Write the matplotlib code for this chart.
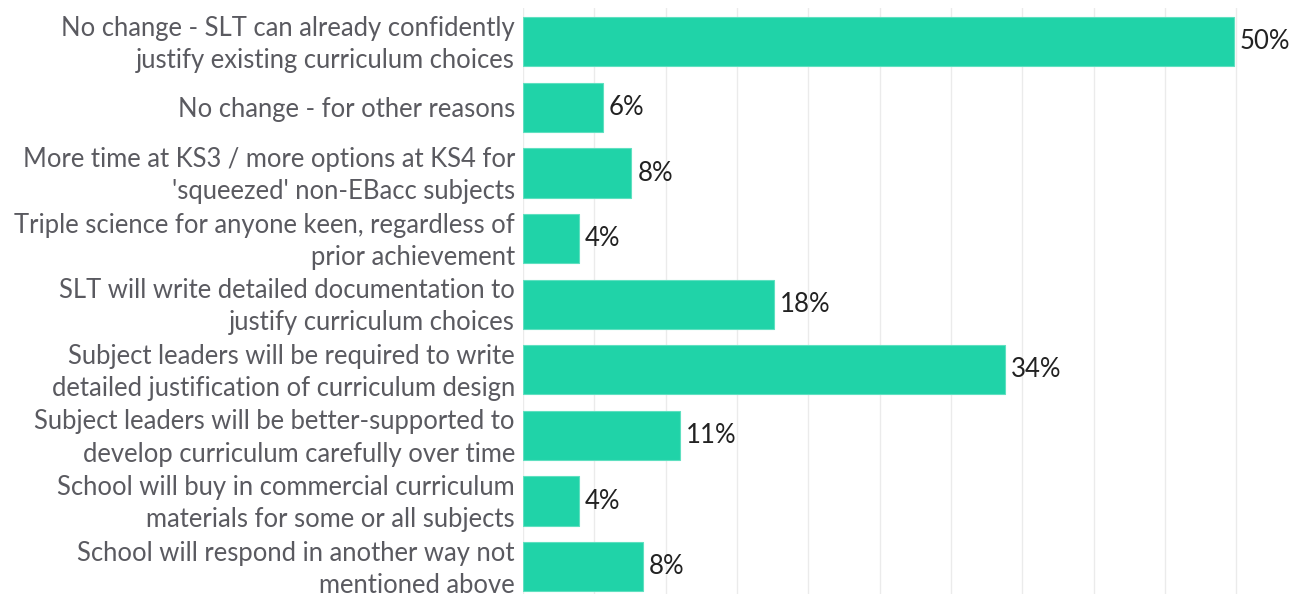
import matplotlib.pyplot as plt
from matplotlib.transforms import ScaledTranslation

plt.rcParams['font.family'] = ['Lato', 'DejaVu Sans']

responses = [
    "No change - SLT can already confidently\njustify existing curriculum choices",
    "No change - for other reasons",
    "More time at KS3 / more options at KS4 for\n'squeezed' non-EBacc subjects",
    "Triple science for anyone keen, regardless of\nprior achievement",
    "SLT will write detailed documentation to\njustify curriculum choices",
    "Subject leaders will be required to write\ndetailed justification of curriculum design",
    "Subject leaders will be better-supported to\ndevelop curriculum carefully over time",
    "School will buy in commercial curriculum\nmaterials for some or all subjects",
    "School will respond in another way not\nmentioned above",
]
share_pct = [49.8, 5.6, 7.6, 3.9, 17.6, 33.8, 11.0, 3.9, 8.4]
grid_ticks = [0, 5, 10, 15, 20, 25, 30, 35, 40, 45, 50]

bar_color = '#20d3a8'
label_color = '#5a5a60'

fig = plt.figure(figsize=(13, 5.94), dpi=100)
ax = fig.add_axes([523 / 1300, 0, 1 - 523 / 1300, 1 - 8 / 594])

ypos = list(range(len(responses)))
ax.barh(ypos, share_pct, height=0.75, color=bar_color,
        edgecolor='#5fe0c0', linewidth=0.8, zorder=2)

for y, v in zip(ypos, share_pct):
    ax.text(v + 0.42, y, f"{v:.0f}%", va='center', ha='left',
            fontsize=18.5, color='#222222')

ax.set_xlim(0, 54.45)
ax.set_ylim(8.416, -0.515)
ax.set_xticks(grid_ticks)
ax.set_xticklabels([])
ax.set_yticks(ypos)
ax.set_yticklabels(responses, fontsize=18.45, color=label_color,
                   linespacing=1.36)
ax.tick_params(axis='both', length=0, pad=5.8)
ax.grid(axis='x', color='#ebebeb', linewidth=1, zorder=0)
ax.set_axisbelow(True)
for s in ax.spines.values():
    s.set_visible(False)

# two-line labels sit a bit low with va=center, lift them a few px
lift = ScaledTranslation(0, 3.5 / 100, fig.dpi_scale_trans)
for lbl in ax.get_yticklabels():
    if '\n' in lbl.get_text():
        lbl.set_transform(lbl.get_transform() + lift)

fig.savefig('out.png', dpi=100)
